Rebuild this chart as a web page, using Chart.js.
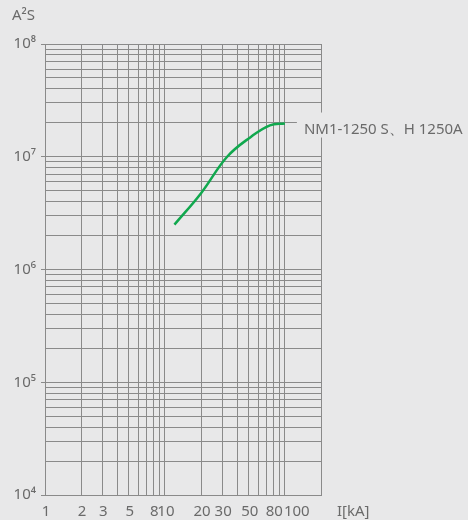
<!DOCTYPE html>
<html>
<head>
<meta charset="utf-8">
<script src="https://cdn.jsdelivr.net/npm/chart.js@4.4.1/dist/chart.umd.min.js"></script>
<style>
html,body{margin:0;padding:0;background:#e8e8e9;}
canvas{display:block;}
</style>
</head>
<body>
<canvas id="c" width="468" height="520"></canvas>
<script>
// Data
const currentKA = [12, 20, 33, 52, 75, 100];
const letThrough = [2.5e6, 4.75e6, 1.0e7, 1.5e7, 1.9e7, 1.97e7];
const seriesName = 'NM1-1250 S、H 1250A';
const xTickLabels = [1, 2, 3, 5, 8, 10, 20, 30, 50, 80, 100];
const xGridValues = [1,2,3,4,5,6,7,8,9,10,20,30,40,50,60,70,80,90,100,200];
const yMajor = [1e4, 1e5, 1e6, 1e7, 1e8];
const yLabels = ['10⁴', '10⁵', '10⁶', '10⁷', '10⁸'];
const yTitle = 'A²S';
const xTitle = 'I[kA]';

const BG = '#e8e8e9';
const GRID = '#8a8a8a';
const TXT = '#6a6a6a';
const FONT = '"Noto Sans", "Open Sans", sans-serif';
const FS = 15;

const yGridValues = [];
for (let e = 4; e < 8; e++) for (let m = 1; m <= 9; m++) yGridValues.push(m * Math.pow(10, e));
yGridValues.push(1e8);

const annot = {
  id: 'annot',
  beforeDraw(chart) {
    const c = chart.ctx;
    c.save(); c.fillStyle = BG; c.fillRect(0, 0, chart.width, chart.height); c.restore();
  },
  afterDraw(chart) {
    const c = chart.ctx;
    const xs = chart.scales.x, ys = chart.scales.y;
    const base = chart.chartArea.bottom;
    c.save();
    c.font = FS + 'px ' + FONT;
    c.fillStyle = TXT;
    c.textBaseline = 'middle';
    c.textAlign = 'left';
    c.fillText(yTitle, 12, 16);
    c.fillText(xTitle, 337, base + 17);
    // x tick labels
    xTickLabels.forEach(v => {
      const px = xs.getPixelForValue(v);
      if (v === 100) { c.textAlign = 'left'; c.fillText(String(v), px - 1, base + 17); }
      else { c.textAlign = 'center'; c.fillText(String(v), px + 1, base + 17); }
    });
    c.textAlign = 'left';
    // series label
    const lastX = xs.getPixelForValue(currentKA[currentKA.length - 1]);
    const lastY = ys.getPixelForValue(letThrough[letThrough.length - 1]);
    c.fillStyle = BG;
    c.fillRect(lastX + 12, lastY - 11, chart.width - lastX - 12, 25);
    c.fillStyle = TXT;
    c.fillText(seriesName, lastX + 19, lastY + 6);
    c.restore();
  }
};

new Chart(document.getElementById('c'), {
  type: 'line',
  data: {
    datasets: [{
      label: seriesName,
      data: currentKA.map((v, i) => ({x: v, y: letThrough[i]})),
      borderColor: '#10a84e',
      borderWidth: 2.5,
      pointRadius: 0,
      tension: 0.4,
      fill: false
    }]
  },
  options: {
    responsive: false,
    animation: false,
    layout: {padding: {left: 0, right: 147, top: 44, bottom: 0}},
    plugins: {legend: {display: false}, tooltip: {enabled: false}},
    scales: {
      x: {
        type: 'logarithmic',
        min: 1, max: 200,
        afterBuildTicks(s) { s.ticks = xGridValues.map(v => ({value: v})); },
        afterFit(s) { s.height = 25; },
        grid: {color: GRID, lineWidth: 1, drawTicks: false},
        border: {color: GRID, width: 1},
        ticks: {display: false}
      },
      y: {
        type: 'logarithmic',
        min: 1e4, max: 1e8,
        afterBuildTicks(s) { s.ticks = yGridValues.map(v => ({value: v})); },
        afterFit(s) { s.width = 45; },
        grid: {
          color: GRID, lineWidth: 1, drawTicks: true, tickLength: 4,
          tickColor: (ctx) => (ctx.tick && yMajor.includes(ctx.tick.value)) ? GRID : 'rgba(0,0,0,0)'
        },
        border: {color: GRID, width: 1},
        ticks: {
          autoSkip: false, padding: 5,
          color: TXT, font: {family: FONT, size: FS},
          callback: (v) => { const i = yMajor.indexOf(v); return i >= 0 ? yLabels[i] : ''; }
        }
      }
    }
  },
  plugins: [annot]
});
</script>
</body>
</html>
